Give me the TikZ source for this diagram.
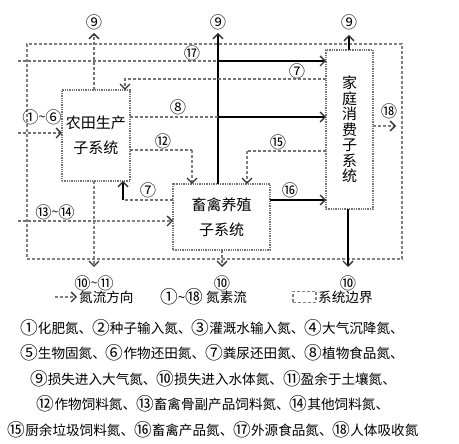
\documentclass[tikz,border=0pt]{standalone}
\usepackage{fontspec}
\usepackage{graphicx}
\setmainfont{Noto Sans CJK SC}
\usetikzlibrary{arrows.meta,calc}
\newcommand\cn[1]{\raisebox{-0.1em}{\scalebox{1.3}{#1}}}
\tikzset{
  arr/.style={-{Straight Barb[length=5pt,width=10pt,line width=1.3pt,color=black!80]}},
  gline/.style={draw=black!55, densely dashed, line width=1.2pt},
  gthick/.style={draw=black!50, densely dashed, line width=2.4pt},
  bline/.style={draw=black, line width=1.2pt},
  sysbox/.style={draw=black!55, densely dotted, line width=1.3pt, fill=white, inner sep=0pt, outer sep=0pt, font=\fontsize{15}{25}\selectfont, align=center},
  bound/.style={draw=black!50, densely dashed, line width=1.8pt, inner sep=0pt, outer sep=0pt},
  lab/.style={font=\fontsize{12.5}{14}\selectfont, inner sep=0pt},
  desc/.style={font=\fontsize{13.6}{16}\selectfont, inner sep=0pt},
}
\begin{document}
\begin{tikzpicture}[x=1pt,y=-1pt]
\useasboundingbox[fill=white] (0,0) rectangle (459,444);
% boundary
\node[bound, minimum width=375pt, minimum height=215pt] (bnd) at (214.5,151.5) {};
% boxes
\node[sysbox, minimum width=68pt, minimum height=91pt] (farm) at (96,135.5) {农田生产\\子系统};
\node[sysbox, minimum width=97pt, minimum height=66pt] (live) at (221.5,217) {畜禽养殖\\子系统};
\node[sysbox, minimum width=47pt, minimum height=159pt, font=\fontsize{15}{15.5}\selectfont] (home) at (349.5,129.5) {家\\庭\\消\\费\\子\\系\\统};
% coordinates
\coordinate (t9a) at (94,33);
\coordinate (t9b) at (218,33);
\coordinate (t9c) at (349,35);
\coordinate (s17) at (18,61);
\coordinate (x17) at (218,61);
\coordinate (c7) at (125,79);
\coordinate (y8) at (218,117);
\coordinate (c12) at (192,150);
\coordinate (c15) at (247,151);
\coordinate (c7b) at (123,200);
\coordinate (y16) at (300,200);
\coordinate (s13) at (18,221);
\coordinate (m13) at (97,221);
\coordinate (s1) at (18,133);
\coordinate (b10a) at (94,267);
\coordinate (b10b) at (222,267);
\coordinate (b10c) at (348,267);
\coordinate (e18) at (396,126);
% flows
\draw[gline,arr] (farm.north -| t9a) -- (t9a);
\draw[bline,arr] (live.north -| t9b) -- (t9b);
\draw[bline,arr] (home.north -| t9c) -- (t9c);
\draw[gline] (s17) -- (x17);
\draw[bline,arr] (x17) -- (home.west |- x17);
\draw[gline,arr] (home.west |- c7) -- (c7) -- (farm.north -| c7);
\draw[gline] (farm.east |- y8) -- (y8);
\draw[bline,arr] (y8) -- (home.west |- y8);
\draw[gline] (farm.east |- c12) -- (c12);
\draw[gthick,arr] (c12) -- (live.north -| c12);
\draw[gline] (home.west |- c15) -- (c15);
\draw[gthick,arr] (c15) -- (live.north -| c15);
\draw[gline] (live.west |- c7b) -- (c7b);
\draw[bline,arr] (c7b) -- (farm.south -| c7b);
\draw[bline,arr] (live.east |- y16) -- (home.west |- y16);
\draw[gline] (s13) -- (m13);
\draw[gthick,arr] (m13) -- (live.west |- s13);
\draw[gline,arr] (s1) -- (farm.west |- s1);
\draw[gthick,arr] (farm.south -| b10a) -- (b10a);
\draw[gline,arr] (live.south -| b10b) -- (b10b);
\draw[bline,arr] (home.south -| b10c) -- (b10c);
\draw[gthick,arr] (home.east |- e18) -- (e18);
% labels
\node[lab] (l9a) at (94,22) {\cn{⑨}};
\node[lab] (l9b) at (218,22) {\cn{⑨}};
\node[lab] (l9c) at (349,22) {\cn{⑨}};
\node[lab] (l17) at (192,53) {\cn{⑰}};
\node[lab] (l7a) at (297,71) {\cn{⑦}};
\node[lab] (l8) at (178,107) {\cn{⑧}};
\node[lab] (l12) at (163,141) {\cn{⑫}};
\node[lab] (l15) at (278,142) {\cn{⑮}};
\node[lab] (l7b) at (148,190) {\cn{⑦}};
\node[lab] (l16) at (290,190) {\cn{⑯}};
\node[lab] (l13) at (55,212) {\cn{⑬}\textasciitilde\cn{⑭}};
\node[lab] (l1) at (42,117) {\cn{①}\textasciitilde\cn{⑥}};
\node[lab] (l18) at (389,111) {\cn{⑱}};
\node[lab] (l10a) at (94,283) {\cn{⑩}\textasciitilde\cn{⑪}};
\node[lab] (l10b) at (222,283) {\cn{⑩}};
\node[lab] (l10c) at (348,283) {\cn{⑩}};
% legend
\coordinate (lg1) at (55,297);
\coordinate (lg2) at (77,297);
\draw[gthick,arr] (lg1) -- (lg2);
\node[desc, anchor=west] (lgt1) at (79,297) {氮流方向};
\node[desc, anchor=west] (lgt2) at (160,297) {\cn{①}\textasciitilde\cn{⑱} 氮素流};
\node[bound, minimum width=23pt, minimum height=11pt, line width=1.3pt] (lgbox) at (304.5,297) {};
\node[desc, anchor=west] (lgt3) at (318,297) {系统边界};
% description
\node[desc] (d1) at (212,328) {\cn{①}化肥氮、\cn{②}种子输入氮、\cn{③}灌溉水输入氮、\cn{④}大气沉降氮、};
\node[desc] (d2) at (212,353) {\cn{⑤}生物固氮、\cn{⑥}作物还田氮、\cn{⑦}粪尿还田氮、\cn{⑧}植物食品氮、};
\node[desc] (d3) at (213,379) {\cn{⑨}损失进入大气氮、\cn{⑩}损失进入水体氮、\cn{⑪}盈余于土壤氮、};
\node[desc] (d4) at (213,404) {\cn{⑫}作物饲料氮、\cn{⑬}畜禽骨副产品饲料氮、\cn{⑭}其他饲料氮、};
\node[desc] (d5) at (213,430) {\cn{⑮}厨余垃圾饲料氮、\cn{⑯}畜禽产品氮、\cn{⑰}外源食品氮、\cn{⑱}人体吸收氮};
\end{tikzpicture}
\end{document}
